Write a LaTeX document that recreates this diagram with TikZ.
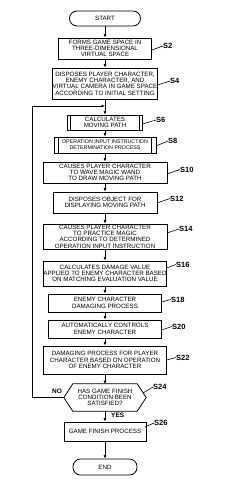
\documentclass[tikz,border=0pt]{standalone}
\usepackage{fontspec}
\setmainfont{Liberation Sans}
\usetikzlibrary{arrows.meta}
\begin{document}
\begin{tikzpicture}[x=1pt,y=-1pt,
  every node/.style={font=\fontsize{6.2}{6.3}\selectfont, align=center, inner sep=0pt},
  box/.style={draw, line width=0.8pt, rectangle},
  term/.style={draw, line width=0.8pt, rounded corners=7.5pt},
  arr/.style={line width=0.8pt, -{Latex[length=3.5pt,width=3pt]}},
  ln/.style={line width=0.8pt},
  lead/.style={line width=0.6pt},
  lab/.style={font=\fontsize{7.5}{8}\selectfont\bfseries, anchor=west}]
\useasboundingbox (0,0) rectangle (230,495);

\node[term, minimum width=71pt, minimum height=15pt] (start) at (105,18.5) {START};
\node[box, minimum width=93pt, minimum height=21pt] (s2) at (105,48.5) {FORMS GAME SPACE IN\\THREE-DIMENSIONAL\\VIRTUAL SPACE};
\node[box, minimum width=105pt, minimum height=31pt] (s4) at (105,83.5) {DISPOSES PLAYER CHARACTER,\\ENEMY CHARACTER, AND\\VIRTUAL CAMERA IN GAME SPACE\\ACCORDING TO INITIAL SETTING};
\coordinate (j) at (105,106);
\node[box, minimum width=75pt, minimum height=15pt] (s6) at (105,122.5) {CALCULATES\\MOVING PATH};
\node[box, minimum width=102pt, minimum height=16pt, font=\fontsize{5.3}{5.8}\selectfont] (s8) at (105,145) {OPERATION INPUT INSTRUCTION\\DETERMINATION PROCESS};
\node[box, minimum width=124pt, minimum height=21pt] (s10) at (105,172.5) {CAUSES PLAYER CHARACTER\\TO WAVE MAGIC WAND\\TO DRAW MOVING PATH};
\node[box, minimum width=104pt, minimum height=21pt] (s12) at (105,202.5) {DISPOSES OBJECT FOR\\DISPLAYING MOVING PATH};
\node[box, minimum width=124pt, minimum height=25pt] (s14) at (105,236.5) {CAUSES PLAYER CHARACTER\\TO PRACTICE MAGIC\\ACCORDING TO DETERMINED\\OPERATION INPUT INSTRUCTION};
\node[box, minimum width=123pt, minimum height=25pt] (s16) at (105,273.5) {CALCULATES DAMAGE VALUE\\APPLIED TO ENEMY CHARACTER BASED\\ON MATCHING EVALUATION VALUE};
\node[box, minimum width=113pt, minimum height=18pt] (s18) at (105,303) {ENEMY CHARACTER\\DAMAGING PROCESS};
\node[box, minimum width=113pt, minimum height=18pt] (s20) at (105,329) {AUTOMATICALLY CONTROLS\\ENEMY CHARACTER};
\node[box, minimum width=123pt, minimum height=28pt] (s22) at (105,360) {DAMAGING PROCESS FOR PLAYER\\CHARACTER BASED ON OPERATION\\OF ENEMY CHARACTER};
\node[minimum width=82pt, minimum height=27pt] (s24) at (105,397.5) {HAS GAME FINISH\\CONDITION BEEN\\SATISFIED?};
\draw[ln] (s24.west) -- ([xshift=9pt]s24.north west) -- ([xshift=-9pt]s24.north east) -- (s24.east) -- ([xshift=-9pt]s24.south east) -- ([xshift=9pt]s24.south west) -- cycle;
\node[box, minimum width=82pt, minimum height=19pt] (s26) at (105,431.5) {GAME FINISH PROCESS};
\node[term, minimum width=64pt, minimum height=16pt] (end) at (105,467) {END};

% double sides
\foreach \n/\d in {s6/3.5, s8/5} {
  \draw[ln] ([xshift=\d pt]\n.north west) -- ([xshift=\d pt]\n.south west);
  \draw[ln] ([xshift=-\d pt]\n.north east) -- ([xshift=-\d pt]\n.south east);
}

% connectors
\draw[arr] (start) -- (s2);
\draw[arr] (s2) -- (s4);
\draw[arr] (s4) -- (s6);
\draw[arr] (s6) -- (s8);
\draw[arr] (s8) -- (s10);
\draw[arr] (s10) -- (s12);
\draw[arr] (s12) -- (s14);
\draw[arr] (s14) -- (s16);
\draw[arr] (s16) -- (s18);
\draw[arr] (s18) -- (s20);
\draw[arr] (s20) -- (s22);
\draw[arr] (s22) -- ([yshift=-0.4pt]s24.north);
\draw[arr] ([yshift=0.4pt]s24.south) -- (s26);
\draw[arr] (s26) -- (end);
\coordinate (c1) at (32,397.5);
\coordinate (c2) at (32,106);
\draw[arr] (s24.west) -- (c1) -- (c2) -- (j);
\node[font=\fontsize{6.5}{7}\selectfont\bfseries] (no) at (57,391) {NO};
\node[font=\fontsize{6.5}{7}\selectfont\bfseries, anchor=west] (yes) at (111,415) {YES};

% labels
\coordinate (a2) at (152,50); \node[lab] (l2) at (163,46) {S2}; \draw[lead] (a2) -- (l2.west);
\coordinate (a4) at (157.5,85); \node[lab] (l4) at (170,81) {S4}; \draw[lead] (a4) -- (l4.west);
\coordinate (a6) at (142.5,124); \node[lab] (l6) at (156,120) {S6}; \draw[lead] (a6) -- (l6.west);
\coordinate (a8) at (156,146); \node[lab] (l8) at (168,141) {S8}; \draw[lead] (a8) -- (l8.west);
\coordinate (a10) at (167,174); \node[lab] (l10) at (180,169.5) {S10}; \draw[lead] (a10) -- (l10.west);
\coordinate (a12) at (157,203); \node[lab] (l12) at (170,198.5) {S12}; \draw[lead] (a12) -- (l12.west);
\coordinate (a14) at (167,233); \node[lab] (l14) at (179,229) {S14}; \draw[lead] (a14) -- (l14.west);
\coordinate (a16) at (166.5,268); \node[lab] (l16) at (176,264.5) {S16}; \draw[lead] (a16) -- (l16.west);
\coordinate (a18) at (161.5,302); \node[lab] (l18) at (171,299.5) {S18}; \draw[lead] (a18) -- (l18.west);
\coordinate (a20) at (161.5,330); \node[lab] (l20) at (172,326.5) {S20}; \draw[lead] (a20) -- (l20.west);
\coordinate (a22) at (166.5,360); \node[lab] (l22) at (176,357.5) {S22}; \draw[lead] (a22) -- (l22.west);
\coordinate (a24) at (143,393); \node[lab] (l24) at (153,387) {S24}; \draw[lead] (a24) -- (l24.west);
\coordinate (a26) at (145,427); \node[lab] (l26) at (154,423) {S26}; \draw[lead] (a26) -- (l26.west);
\end{tikzpicture}
\end{document}
